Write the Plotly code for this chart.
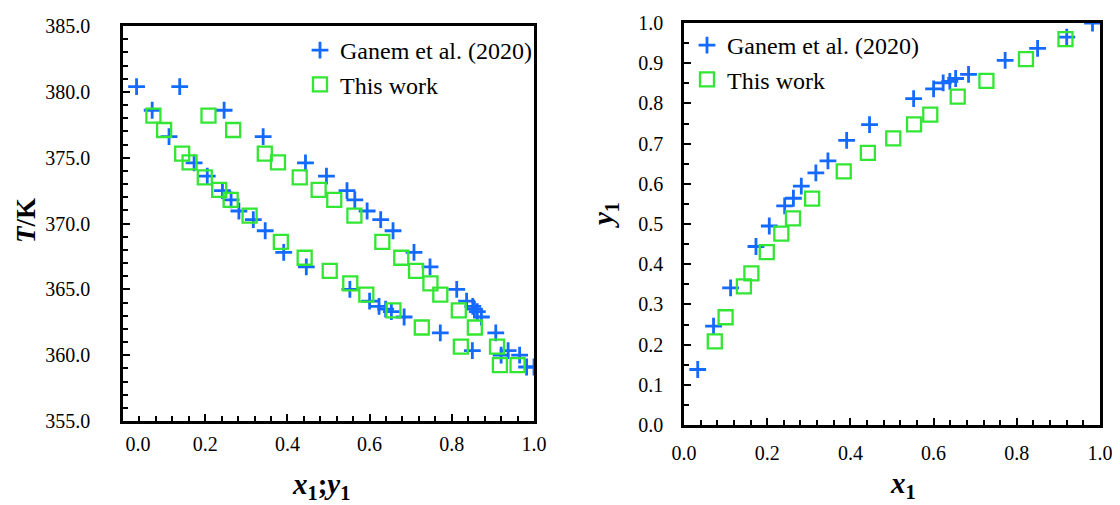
import plotly.graph_objects as go

# Ganem et al. (2020) data: T/K, liquid x1, vapour y1
ganem_T = [380.4, 378.6, 376.6, 374.6, 373.6, 372.5, 371.8, 370.95, 370.3, 369.45,
           367.8, 366.7, 365.0, 364.1, 363.7, 363.5, 363.3, 362.9, 361.7, 360.35,
           360.0, 359.1]
ganem_x = [0.033, 0.071, 0.112, 0.173, 0.205, 0.242, 0.263, 0.282, 0.317, 0.346,
           0.391, 0.446, 0.552, 0.600, 0.623, 0.639, 0.653, 0.684, 0.772, 0.850,
           0.920, 0.982]
ganem_y = [0.138, 0.246, 0.341, 0.444, 0.495, 0.545, 0.564, 0.594, 0.627, 0.657,
           0.708, 0.747, 0.812, 0.836, 0.851, 0.855, 0.862, 0.872, 0.907, 0.937,
           0.965, 1.000]

# This work
work_T = [378.2, 377.1, 375.3, 374.65, 373.5, 372.55, 371.8, 370.6, 368.6, 367.4,
          366.4, 365.45, 364.6, 363.4, 362.1, 360.65, 359.25]
work_x = [0.074, 0.100, 0.144, 0.162, 0.199, 0.234, 0.262, 0.308, 0.384, 0.442,
          0.503, 0.553, 0.592, 0.658, 0.727, 0.822, 0.917]
work_y = [0.208, 0.268, 0.345, 0.377, 0.430, 0.476, 0.514, 0.563, 0.631, 0.677,
          0.713, 0.748, 0.772, 0.817, 0.856, 0.910, 0.960]

x_ticks = [0.0, 0.2, 0.4, 0.6, 0.8, 1.0]
x_ticklabels_left = ["\u00a0\u00a0\u00a0\u00a0\u00a0\u00a00.0", "0.2", "0.4", "0.6", "0.8", "1.0"]
T_ticks = [355, 360, 365, 370, 375, 380, 385]
T_ticklabels = ["355.0", "360.0", "365.0", "370.0", "375.0", "380.0", "385.0"]
y_ticks = [0.0, 0.1, 0.2, 0.3, 0.4, 0.5, 0.6, 0.7, 0.8, 0.9, 1.0]

BLUE = "#1469ff"
GREEN = "#33e633"
FONT = "Liberation Serif"
W, H = 1120, 505
OFF = 8  # page body margin offset


def px(v):
    return (v - OFF) / W


def py(v):
    return 1 - (v - OFF) / H


plus = dict(symbol="cross-thin", size=12, line=dict(color=BLUE, width=2.8), color=BLUE)
square = dict(symbol="square-open", size=14, color=GREEN, line=dict(color=GREEN, width=2.3))

fig = go.Figure()

# Left: T-x-y
fig.add_trace(go.Scatter(x=ganem_x, y=ganem_T, mode="markers", marker=plus,
                         name="Ganem et al. (2020)", legend="legend", legendgroup="g1",
                         xaxis="x", yaxis="y"))
fig.add_trace(go.Scatter(x=ganem_y, y=ganem_T, mode="markers", marker=plus,
                         showlegend=False, xaxis="x", yaxis="y"))
fig.add_trace(go.Scatter(x=work_x, y=work_T, mode="markers", marker=square,
                         name="This work", legend="legend", legendgroup="w1",
                         xaxis="x", yaxis="y"))
fig.add_trace(go.Scatter(x=work_y, y=work_T, mode="markers", marker=square,
                         showlegend=False, xaxis="x", yaxis="y"))

# Right: x-y
fig.add_trace(go.Scatter(x=ganem_x, y=ganem_y, mode="markers", marker=plus,
                         name="Ganem et al. (2020)", legend="legend2", legendgroup="g2",
                         xaxis="x2", yaxis="y2"))
fig.add_trace(go.Scatter(x=work_x, y=work_y, mode="markers", marker=square,
                         name="This work", legend="legend2", legendgroup="w2",
                         xaxis="x2", yaxis="y2"))

tickfont = dict(family=FONT, size=20, color="black")
axis_common = dict(showline=True, linecolor="black", linewidth=2.5, mirror=True,
                   ticks="inside", ticklen=7, tickwidth=2, tickcolor="black",
                   showgrid=False, zeroline=False, tickfont=tickfont, automargin=False)
minor_common = dict(ticks="inside", ticklen=5, tickwidth=2, tickcolor="black")

legend_font = dict(family=FONT, size=24, color="black")

fig.update_layout(
    width=W, height=H,
    margin=dict(l=0, r=0, t=0, b=0),
    paper_bgcolor="white", plot_bgcolor="white",
    font=dict(family=FONT, size=20, color="black"),
    xaxis=dict(domain=[px(123), px(534)], range=[0, 1], tickvals=x_ticks,
               ticktext=x_ticklabels_left, ticklabelstandoff=3,
               minor=dict(dtick=0.04, **minor_common),
               anchor="y", **axis_common),
    yaxis=dict(domain=[py(421), py(26)], range=[355, 385], tickvals=T_ticks,
               ticktext=T_ticklabels, ticklabelstandoff=26,
               minor=dict(dtick=1, **minor_common),
               anchor="x", **axis_common),
    xaxis2=dict(domain=[px(684), px(1100)], range=[0, 1], tickvals=x_ticks,
                tickformat=".1f", ticklabelstandoff=8,
                minor=dict(dtick=0.04, **minor_common),
                anchor="y2", **axis_common),
    yaxis2=dict(domain=[py(425), py(23)], range=[0, 1], tickvals=y_ticks,
                tickformat=".1f", ticklabelstandoff=14,
                minor=dict(dtick=0.05, **minor_common),
                anchor="x2", **axis_common),
    legend=dict(x=px(300), y=py(28), xanchor="left", yanchor="top",
                bgcolor="rgba(0,0,0,0)", font=legend_font,
                tracegroupgap=0, itemwidth=30),
    legend2=dict(x=px(687), y=py(23), xanchor="left", yanchor="top",
                 bgcolor="rgba(0,0,0,0)", font=legend_font,
                 tracegroupgap=0, itemwidth=30),
    annotations=[
        dict(text="<b><i>T</i>/K</b>", x=px(26), y=py(221), xref="paper", yref="paper",
             xanchor="center", yanchor="middle",
             showarrow=False, textangle=-90, font=dict(family=FONT, size=27, color="black")),
        dict(text="<b><i>x</i><sub>1</sub>;<i>y</i><sub>1</sub></b>", x=px(321), y=py(486),
             xref="paper", yref="paper", xanchor="center", yanchor="middle", showarrow=False,
             font=dict(family=FONT, size=29, color="black")),
        dict(text="<b><i>y</i><sub>1</sub></b>", x=px(605), y=py(215), xref="paper",
             yref="paper", xanchor="center", yanchor="middle", showarrow=False, textangle=-90,
             font=dict(family=FONT, size=29, color="black")),
        dict(text="<b><i>x</i><sub>1</sub></b>", x=px(903), y=py(485), xref="paper",
             yref="paper", xanchor="center", yanchor="middle", showarrow=False,
             font=dict(family=FONT, size=29, color="black")),
    ],
)

fig.write_html("out.html")
